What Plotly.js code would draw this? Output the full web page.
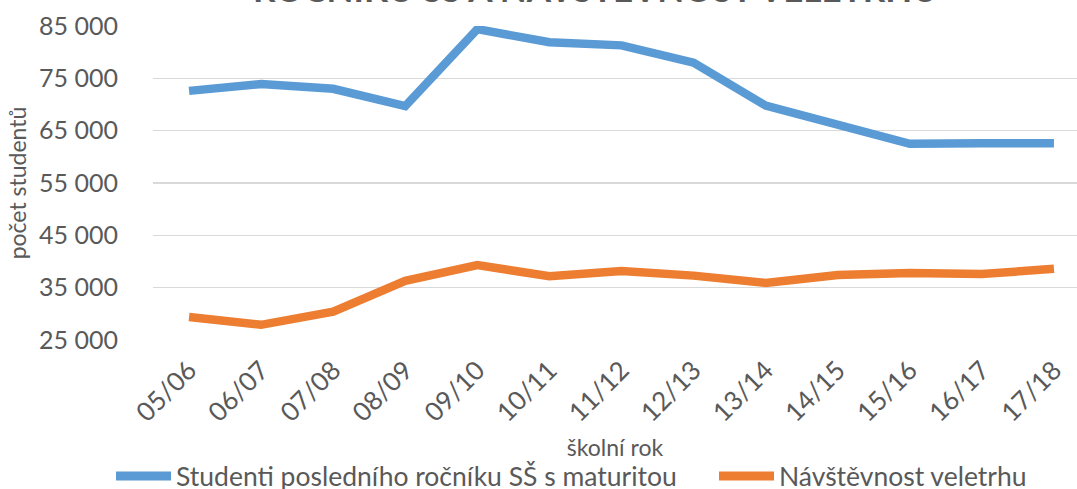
<!DOCTYPE html>
<html>
<head>
<meta charset="utf-8">
<script src="https://cdn.plot.ly/plotly-3.0.1.min.js"></script>
<style>html,body{margin:0;padding:0;background:#fff;}#chart{width:1077px;height:489px;}</style>
</head>
<body>
<div id="chart"></div>
<script>
// ---- data ----
const years = ["05/06","06/07","07/08","08/09","09/10","10/11","11/12","12/13","13/14","14/15","15/16","16/17","17/18"];
const students = [72600, 73900, 73000, 69700, 84400, 81900, 81300, 78000, 69800, 66000, 62500, 62600, 62600];
const visitors = [29400, 27900, 30400, 36300, 39300, 37200, 38200, 37300, 35900, 37400, 37800, 37600, 38600];
const seriesNames = ["Studenti posledního ročníku SŠ s maturitou", "Návštěvnost veletrhu"];
const seriesColors = ["#5B9BD5", "#ED7D31"];
const yTickVals = [25000, 35000, 45000, 55000, 65000, 75000, 85000];
const yTickLabels = ["25 000", "35 000", "45 000", "55 000", "65 000", "75 000", "85 000"];
const titleText = "POČET STUDENTŮ POSLEDNÍCH<br>ROČNÍKŮ SŠ A NÁVŠTĚVNOST VELETRHU";
const xTitle = "školní rok";
const yTitle = "počet studentů";

// ---- geometry helpers (pixel -> paper) ----
const W = 1077, H = 489;
const M = {l: 153, r: 0, t: 26, b: 149};
const pw = W - M.l - M.r, ph = H - M.t - M.b;
const px = x => (x - M.l) / pw;
const py = y => (H - M.b - y) / ph;

const font = "Lato, 'Open Sans', sans-serif";
const txt = "#595959";

const traces = [students, visitors].map((vals, i) => ({
  type: "scatter", mode: "lines", x: years, y: vals, name: seriesNames[i],
  line: {color: seriesColors[i], width: 8.5, shape: "linear"},
  showlegend: false, hoverinfo: "x+y"
}));

// custom legend
const legY = 476;
const legItems = [{x0: 116, x1: 171, tx: 174}, {x0: 719, x1: 774, tx: 777}];
const shapes = legItems.map((it, i) => ({
  type: "line", xref: "paper", yref: "paper",
  x0: px(it.x0), x1: px(it.x1), y0: py(legY), y1: py(legY),
  line: {color: seriesColors[i], width: 9}
}));
const annotations = legItems.map((it, i) => ({
  xref: "paper", yref: "paper", x: px(it.tx), y: py(legY),
  xanchor: "left", yanchor: "middle", showarrow: false,
  text: seriesNames[i], font: {family: font, size: 26.5, color: txt}
}));
annotations.push({
  xref: "paper", yref: "paper", x: px(595), y: py(10.5),
  xanchor: "center", yanchor: "bottom", showarrow: false,
  text: titleText, font: {family: font, size: 35, color: txt, weight: "bold"}
});

const layout = {
  width: W, height: H,
  margin: M,
  paper_bgcolor: "#fff", plot_bgcolor: "#fff",
  font: {family: font, color: txt},
  showlegend: false,
  xaxis: {
    type: "category", range: [-0.5, 12.32],
    tickangle: -45, tickfont: {family: font, size: 26, color: txt},
    showgrid: false, zeroline: false, showline: false, ticks: "",
    ticklabelstandoff: 9,
    title: {text: xTitle, font: {family: font, size: 23, color: txt}, standoff: 13}
  },
  yaxis: {
    range: [25000, 85000], tickvals: yTickVals, ticktext: yTickLabels,
    tickfont: {family: font, size: 25, color: txt},
    showgrid: true, gridcolor: "#D9D9D9", gridwidth: 1.5,
    zeroline: false, showline: false, ticks: "",
    ticklabelstandoff: 34,
    title: {text: yTitle, font: {family: font, size: 23, color: txt}, standoff: 6}
  },
  shapes: shapes,
  annotations: annotations
};

Plotly.newPlot("chart", traces, layout, {displayModeBar: false, staticPlot: true});
</script>
</body>
</html>
